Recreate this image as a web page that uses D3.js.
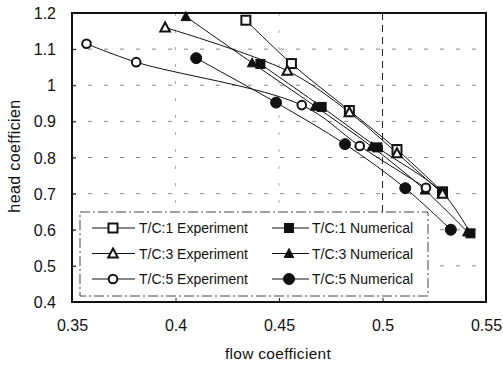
<!DOCTYPE html>
<html><head><meta charset="utf-8">
<script src="https://cdn.jsdelivr.net/npm/d3@7"></script>
<style>body{margin:0;background:#fff}svg{display:block}text{font-family:"Liberation Sans",Arial,sans-serif;fill:#111}</style>
</head><body><svg id="c" width="503" height="366"></svg>
<script>
// ---- data ----
const xTicks = [0.35, 0.4, 0.45, 0.5, 0.55];
const yTicks = [0.4, 0.5, 0.6, 0.7, 0.8, 0.9, 1, 1.1, 1.2];
const seriesNames = ["T/C:1 Experiment","T/C:1 Numerical","T/C:3 Experiment","T/C:3 Numerical","T/C:5 Experiment","T/C:5 Numerical"];
const tc1ExpX = [0.434, 0.456, 0.484, 0.507, 0.529];
const tc1ExpY = [1.18, 1.06, 0.93, 0.822, 0.705];
const tc1NumX = [0.441, 0.4706, 0.4975, 0.529, 0.5425];
const tc1NumY = [1.059, 0.940, 0.828, 0.702, 0.590];
const tc3ExpX = [0.395, 0.454, 0.484, 0.507, 0.529];
const tc3ExpY = [1.16, 1.04, 0.925, 0.812, 0.700];
const tc3NumX = [0.405, 0.437, 0.4674, 0.4948, 0.5205, 0.541];
const tc3NumY = [1.19, 1.062, 0.942, 0.830, 0.710, 0.594];
const tc5ExpX = [0.357, 0.381, 0.461, 0.489, 0.521];
const tc5ExpY = [1.115, 1.064, 0.945, 0.832, 0.716];
const tc5NumX = [0.410, 0.4486, 0.4819, 0.511, 0.533];
const tc5NumY = [1.075, 0.952, 0.837, 0.715, 0.600];

const series = [
  {name: seriesNames[0], xs: tc1ExpX, ys: tc1ExpY, shape: "square", filled: false},
  {name: seriesNames[1], xs: tc1NumX, ys: tc1NumY, shape: "square", filled: true},
  {name: seriesNames[2], xs: tc3ExpX, ys: tc3ExpY, shape: "triangle", filled: false},
  {name: seriesNames[3], xs: tc3NumX, ys: tc3NumY, shape: "triangle", filled: true},
  {name: seriesNames[4], xs: tc5ExpX, ys: tc5ExpY, shape: "circle", filled: false},
  {name: seriesNames[5], xs: tc5NumX, ys: tc5NumY, shape: "circle", filled: true}
];

const svg = d3.select("#c");
const L = 72, R = 486, T = 13, B = 302;
const x = d3.scaleLinear().domain([0.35, 0.55]).range([L, R]);
const y = d3.scaleLinear().domain([0.4, 1.2]).range([B, T]);

// gridlines
const grid = svg.append("g");
grid.selectAll("line.gy").data(yTicks.slice(1, -1)).enter().append("line")
  .attr("x1", L).attr("x2", R).attr("y1", d => y(d)).attr("y2", d => y(d))
  .attr("stroke", "#888").attr("stroke-width", 1).attr("stroke-dasharray", "4,12");
grid.selectAll("line.gx").data(xTicks.slice(1, -1)).enter().append("line")
  .attr("y1", T).attr("y2", B).attr("x1", d => x(d)).attr("x2", d => x(d))
  .attr("stroke", d => d === 0.5 ? "#222" : "#aaa")
  .attr("stroke-width", 1).attr("stroke-dasharray", d => d === 0.5 ? "7,5" : "3,14");

// axes
const xAxis = d3.axisBottom(x).tickValues(xTicks).tickFormat(d => String(d)).tickSize(-4).tickPadding(18);
const yAxis = d3.axisLeft(y).tickValues(yTicks).tickFormat(d => String(d)).tickSize(-4).tickPadding(16);
const gx = svg.append("g").attr("transform", `translate(0,${B})`).call(xAxis);
const gy = svg.append("g").attr("transform", `translate(${L},0)`).call(yAxis);
[gx, gy].forEach(g => {
  g.select(".domain").remove();
  g.selectAll(".tick line").attr("stroke", "#222");
  g.selectAll(".tick text").attr("font-size", 16).attr("fill", "#111")
    .style("font-family", '"Liberation Sans", Arial, sans-serif');
});
gy.selectAll(".tick text").attr("dy", "0.35em");

// lines
const line = d3.line().x(d => x(d[0])).y(d => y(d[1])).curve(d3.curveCatmullRom.alpha(0.5));
series.forEach(s => {
  const pts = s.xs.map((v, i) => [v, s.ys[i]]);
  svg.append("path").datum(pts).attr("d", line).attr("fill", "none")
    .attr("stroke", "#111").attr("stroke-width", 1);
});

function marker(g, s, cx, cy) {
  const fill = s.filled ? "#111" : "#fff";
  const sw = s.filled ? 1 : 2;
  if (s.shape === "square") {
    g.append("rect").attr("x", cx - 4.5).attr("y", cy - 4.5).attr("width", 9).attr("height", 9)
      .attr("fill", fill).attr("stroke", "#111").attr("stroke-width", sw);
  } else if (s.shape === "triangle") {
    g.append("path").attr("d", `M${cx},${cy - 5}L${cx + 4.8},${cy + 4}L${cx - 4.8},${cy + 4}Z`)
      .attr("fill", fill).attr("stroke", "#111").attr("stroke-width", sw).attr("stroke-linejoin", "miter");
  } else {
    g.append("circle").attr("cx", cx).attr("cy", cy).attr("r", s.filled ? 5.5 : 4.3)
      .attr("fill", fill).attr("stroke", "#111").attr("stroke-width", sw);
  }
}
const mg = svg.append("g");
series.forEach(s => s.xs.forEach((v, i) => marker(mg, s, x(v), y(s.ys[i]))));

// legend
const lg = svg.append("g");
lg.append("rect").attr("x", 80).attr("y", 212).attr("width", 348).attr("height", 84)
  .attr("fill", "#fff").attr("stroke", "#444").attr("stroke-width", 1).attr("stroke-dasharray", "10,3,2,3");
series.forEach((s, i) => {
  const col = i % 2, row = Math.floor(i / 2);
  const cy = 228 + row * 25.5;
  const lx0 = col === 0 ? 92 : 272, lx1 = col === 0 ? 135 : 309;
  const mx = col === 0 ? 113 : 289;
  lg.append("line").attr("x1", lx0).attr("x2", lx1).attr("y1", cy).attr("y2", cy)
    .attr("stroke", "#111").attr("stroke-width", 1);
  marker(lg, s, mx, cy);
  lg.append("text").attr("x", col === 0 ? 139 : 312).attr("y", cy + 5)
    .attr("font-size", 14).text(s.name);
});

// frame
svg.append("rect").attr("x", L).attr("y", T).attr("width", R - L).attr("height", B - T)
  .attr("fill", "none").attr("stroke", "#111").attr("stroke-width", 2);

// titles
svg.append("text").attr("x", (L + R) / 2 - 1).attr("y", 359).attr("text-anchor", "middle")
  .attr("font-size", 15.5).attr("letter-spacing", 0.3).text("flow coefficient");
svg.append("text").attr("transform", "translate(20,156) rotate(-90)").attr("text-anchor", "middle")
  .attr("font-size", 16).attr("letter-spacing", 0.4).text("head coefficien");
</script></body></html>
